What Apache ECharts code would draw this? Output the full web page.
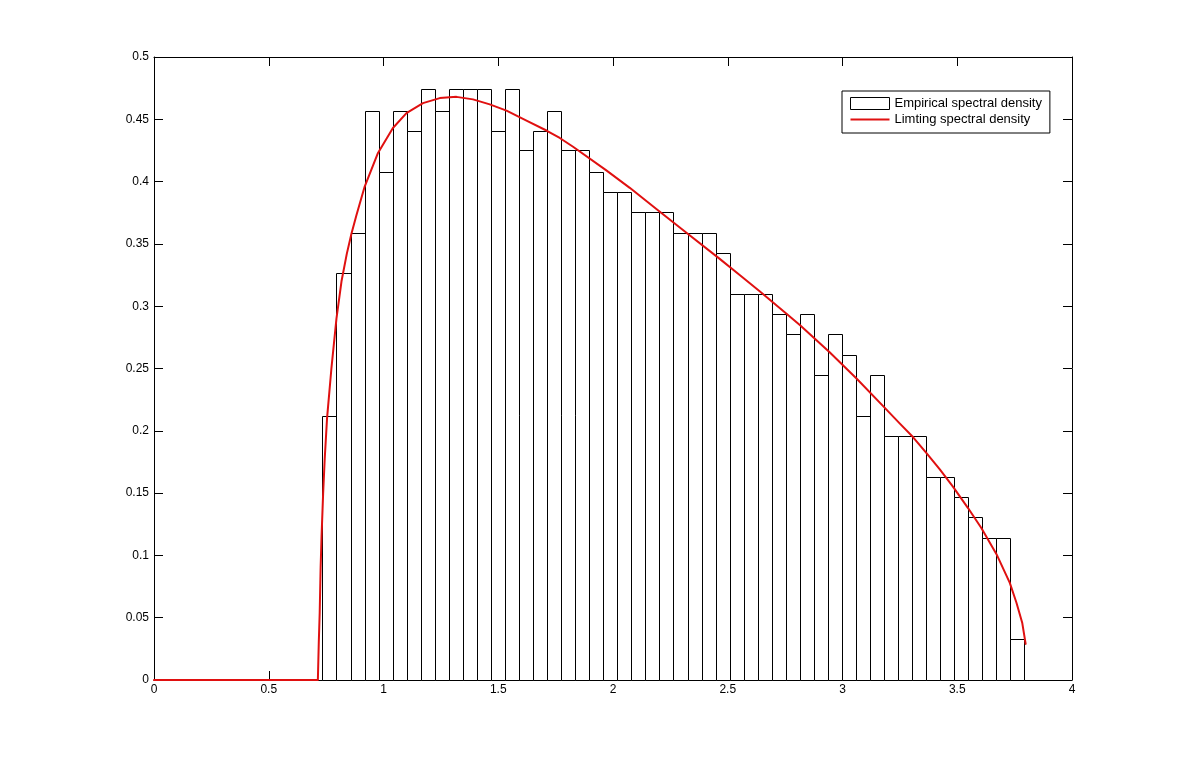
<!DOCTYPE html>
<html>
<head>
<meta charset="utf-8">
<script src="https://cdn.jsdelivr.net/npm/echarts@6/dist/echarts.min.js"></script>
<style>
html,body{margin:0;padding:0;background:#fff;}
#chart{width:1185px;height:764px;}
</style>
</head>
<body>
<div id="chart"></div>
<script>
// ---- data ----
const seriesNames = ['Empirical spectral density', 'Limting spectral density'];

// histogram: 50 equal-width bins between these edges
const histLo = 0.734;
const histHi = 3.793;
const histDensity = [
  0.212, 0.327, 0.359, 0.457, 0.408, 0.457, 0.441, 0.474, 0.457, 0.474,
  0.474, 0.474, 0.441, 0.474, 0.425, 0.441, 0.457, 0.425, 0.425, 0.408,
  0.392, 0.392, 0.376, 0.376, 0.376, 0.359, 0.359, 0.359, 0.343, 0.310,
  0.310, 0.310, 0.294, 0.278, 0.294, 0.245, 0.278, 0.261, 0.212, 0.245,
  0.196, 0.196, 0.196, 0.163, 0.163, 0.147, 0.131, 0.114, 0.114, 0.033
];

// limiting density curve
const curveX = [0, 0.714, 0.718, 0.722, 0.726, 0.730, 0.737, 0.744, 0.754, 0.773,
  0.795, 0.817, 0.840, 0.860, 0.882, 0.918, 0.976, 1.041, 1.100, 1.172,
  1.245, 1.318, 1.390, 1.463, 1.536, 1.623, 1.710, 1.768, 1.826, 1.971,
  2.073, 2.189, 2.320, 2.465, 2.552, 2.639, 2.756, 2.814, 2.944, 3.061,
  3.176, 3.249, 3.307, 3.366, 3.424, 3.482, 3.547, 3.605, 3.671, 3.729,
  3.758, 3.783, 3.798];
const curveY = [0, 0, 0.030, 0.054, 0.090, 0.115, 0.150, 0.178, 0.210, 0.250,
  0.290, 0.320, 0.342, 0.358, 0.373, 0.396, 0.423, 0.443, 0.455, 0.463,
  0.467, 0.468, 0.466, 0.462, 0.457, 0.449, 0.441, 0.435, 0.428, 0.409,
  0.395, 0.378, 0.359, 0.338, 0.325, 0.312, 0.294, 0.285, 0.263, 0.242,
  0.220, 0.206, 0.195, 0.182, 0.169, 0.155, 0.138, 0.122, 0.101, 0.078,
  0.062, 0.046, 0.029];

// axes
const xMin = 0, xMax = 4, xStep = 0.5;
const yMin = 0, yMax = 0.5, yStep = 0.05;

// ---- build ----
const nBins = histDensity.length;
const binW = (histHi - histLo) / nBins;
const histData = histDensity.map((d, i) => [histLo + i * binW, histLo + (i + 1) * binW, d]);
const curveData = curveX.map((x, i) => [x, curveY[i]]);

const FONT = '"Liberation Sans", Arial, Helvetica, sans-serif';
const RED = '#e01010';
const tickStyle = { show: true, inside: true, length: 9, lineStyle: { color: '#000', width: 1 } };
const lineStyle = { show: true, onZero: false, lineStyle: { color: '#000', width: 1 } };

const chart = echarts.init(document.getElementById('chart'), null, { renderer: 'canvas' });
chart.setOption({
  backgroundColor: '#ffffff',
  animation: false,
  grid: { left: 154, right: 113, top: 57, bottom: 84, containLabel: false },
  legend: {
    orient: 'vertical',
    left: 842,
    top: 91,
    padding: [6, 8, 7, 8],
    itemWidth: 39,
    itemHeight: 12,
    itemGap: 3,
    symbolKeepAspect: true,
    borderColor: '#000',
    borderWidth: 1,
    backgroundColor: '#fff',
    textStyle: { fontFamily: FONT, fontSize: 13, color: '#000' },
    data: [
      { name: seriesNames[0], icon: 'rect', itemStyle: { color: '#fff', borderColor: '#000', borderWidth: 1 } },
      { name: seriesNames[1], icon: 'path://M0,0 L39,0 L39,2 L0,2 Z', itemStyle: { color: RED, borderWidth: 0 } }
    ]
  },
  xAxis: [
    {
      type: 'value', min: xMin, max: xMax, interval: xStep, position: 'bottom',
      axisLine: lineStyle, axisTick: tickStyle, splitLine: { show: false },
      axisLabel: { color: '#000', fontFamily: FONT, fontSize: 12, margin: 4 }
    },
    {
      type: 'value', min: xMin, max: xMax, interval: xStep, position: 'top',
      axisLine: lineStyle, axisTick: tickStyle, splitLine: { show: false },
      axisLabel: { show: false }
    }
  ],
  yAxis: [
    {
      type: 'value', min: yMin, max: yMax, interval: yStep, position: 'left',
      axisLine: lineStyle, axisTick: tickStyle, splitLine: { show: false },
      axisLabel: { color: '#000', fontFamily: FONT, fontSize: 12, margin: 5 }
    },
    {
      type: 'value', min: yMin, max: yMax, interval: yStep, position: 'right',
      axisLine: lineStyle, axisTick: tickStyle, splitLine: { show: false },
      axisLabel: { show: false }
    }
  ],
  series: [
    {
      name: seriesNames[0],
      type: 'custom',
      xAxisIndex: 0, yAxisIndex: 0,
      z: 2,
      encode: { x: [0, 1], y: 2 },
      data: histData,
      renderItem: function (params, api) {
        const pTop = api.coord([api.value(0), api.value(2)]);
        const pBot = api.coord([api.value(1), 0]);
        const x0 = Math.round(pTop[0]) + 0.5;
        const x1 = Math.round(pBot[0]) + 0.5;
        const y0 = Math.round(pTop[1]) + 0.5;
        const y1 = Math.round(pBot[1]) + 0.5;
        return {
          type: 'rect',
          shape: { x: x0, y: y0, width: x1 - x0, height: y1 - y0 },
          style: { fill: '#ffffff', stroke: '#000000', lineWidth: 1 }
        };
      }
    },
    {
      name: seriesNames[1],
      type: 'line',
      xAxisIndex: 0, yAxisIndex: 0,
      z: 3,
      data: curveData,
      symbol: 'none',
      showSymbol: false,
      smooth: false,
      color: RED,
      lineStyle: { color: RED, width: 2, join: 'round', cap: 'round' }
    }
  ]
});
</script>
</body>
</html>
